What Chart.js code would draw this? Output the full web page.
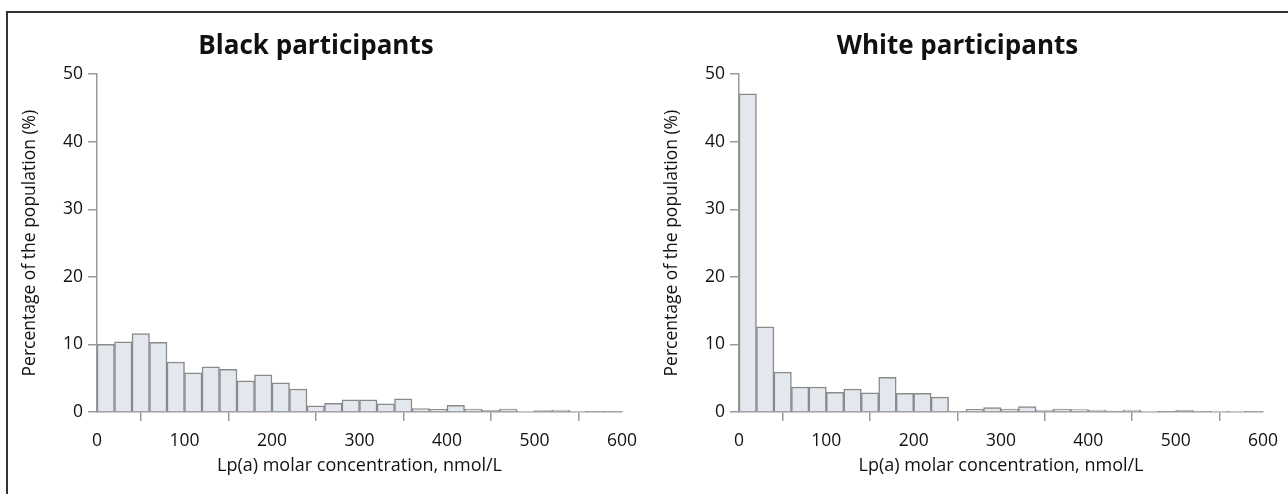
<!DOCTYPE html>
<html>
<head>
<meta charset="utf-8">
<script src="https://cdn.jsdelivr.net/npm/chart.js@4.4.1/dist/chart.umd.min.js"></script>
<style>
  body { margin: 0; background: #fff; width: 1288px; height: 494px; overflow: hidden; position: relative; }
  #marco { position: absolute; left: 6px; top: 11px; width: 1300px; height: 500px; border: 2px solid #333; }
  .panel { position: absolute; top: 14px; height: 480px; }
  #p1 { left: 10px; width: 630px; }
  #p2 { left: 652px; width: 629px; }
</style>
</head>
<body>
<div id="marco"></div>
<div class="panel" id="p1"><canvas id="graficoNegros"></canvas></div>
<div class="panel" id="p2"><canvas id="graficoBlancos"></canvas></div>
<script>
// =====================
// Datos
// =====================
// inicio de cada intervalo de 20 nmol/L
const inicios = [0, 20, 40, 60, 80, 100, 120, 140, 160, 180, 200, 220, 240, 260, 280,
                 300, 320, 340, 360, 380, 400, 420, 440, 460, 480, 500, 520, 540, 560, 580];
const anchoIntervalo = 20;

const negros = [10.0, 10.4, 11.6, 10.3, 7.4, 5.8, 6.7, 6.3, 4.6, 5.5, 4.3, 3.4, 0.9, 1.3, 1.8,
                1.8, 1.2, 1.95, 0.5, 0.4, 1.0, 0.45, 0.25, 0.45, 0.05, 0.2, 0.3, 0.05, 0.1, 0.1];
const blancos = [47.1, 12.6, 5.9, 3.7, 3.7, 2.9, 3.4, 2.85, 5.15, 2.75, 2.75, 2.2, 0.1, 0.4, 0.65,
                 0.45, 0.8, 0.3, 0.45, 0.35, 0.3, 0.15, 0.3, 0.05, 0, 0.25, 0.1, 0.05, 0.05, 0.1];

const ticksX = [0, 100, 200, 300, 400, 500, 600];
const ticksY = [0, 10, 20, 30, 40, 50];

const tituloX = "Lp(a) molar concentration, nmol/L";
const tituloY = "Percentage of the population (%)";

// =====================
// Estilos
// =====================
const gris = "#9a9a9a";
const fuente = "'Open Sans', sans-serif";

function histograma(idCanvas, titulo, valores) {
  const puntos = valores.map((v, i) => ({ x: inicios[i] + anchoIntervalo / 2, y: v }));
  return new Chart(document.getElementById(idCanvas), {
    type: "bar",
    data: {
      datasets: [{
        data: puntos,
        backgroundColor: "#e3e8ef",
        borderColor: "#8a8a8a",
        borderWidth: 1.5,
        barPercentage: 1,
        categoryPercentage: 1
      }]
    },
    options: {
      responsive: true,
      maintainAspectRatio: false,
      animation: false,
      layout: { padding: { left: 0, right: 18, top: 0, bottom: 0 } },
      plugins: {
        legend: { display: false },
        tooltip: { enabled: false },
        title: {
          display: true,
          text: titulo,
          color: "#111",
          font: { family: fuente, size: 26, weight: "bold" },
          padding: { top: 17, bottom: 12 }
        }
      },
      scales: {
        x: {
          type: "linear",
          min: ticksX[0],
          max: ticksX[ticksX.length - 1],
          offset: false,
          afterBuildTicks: s => { s.ticks = ticksX.map(v => ({ value: v })); },
          // alto fijo y sin relleno extra por la última etiqueta
          afterFit: s => { s.height = 82; s.paddingLeft = 0; s.paddingRight = 0; },
          grid: { display: true, drawOnChartArea: false, drawTicks: true, tickLength: 9, color: gris, lineWidth: 1.5 },
          border: { display: true, color: gris, width: 1.5 },
          ticks: { color: "#111", padding: 10, font: { family: fuente, size: 17.5 } },
          title: {
            display: true, text: tituloX, color: "#111",
            font: { family: fuente, size: 18 }, padding: { top: 17, bottom: 17 }
          }
        },
        y: {
          min: ticksY[0],
          max: ticksY[ticksY.length - 1],
          afterBuildTicks: s => { s.ticks = ticksY.map(v => ({ value: v })); },
          afterFit: s => { s.width = 87; },
          grid: { display: true, drawOnChartArea: false, drawTicks: true, tickLength: 9, color: gris, lineWidth: 1.5 },
          border: { display: true, color: gris, width: 1.5 },
          ticks: { color: "#111", padding: 5, font: { family: fuente, size: 17.5 } },
          title: {
            display: true, text: tituloY, color: "#111",
            font: { family: fuente, size: 17.5 }, padding: { top: 10, bottom: 10 }
          }
        }
      }
    }
  });
}

histograma("graficoNegros", "Black participants", negros);
histograma("graficoBlancos", "White participants", blancos);
</script>
</body>
</html>
